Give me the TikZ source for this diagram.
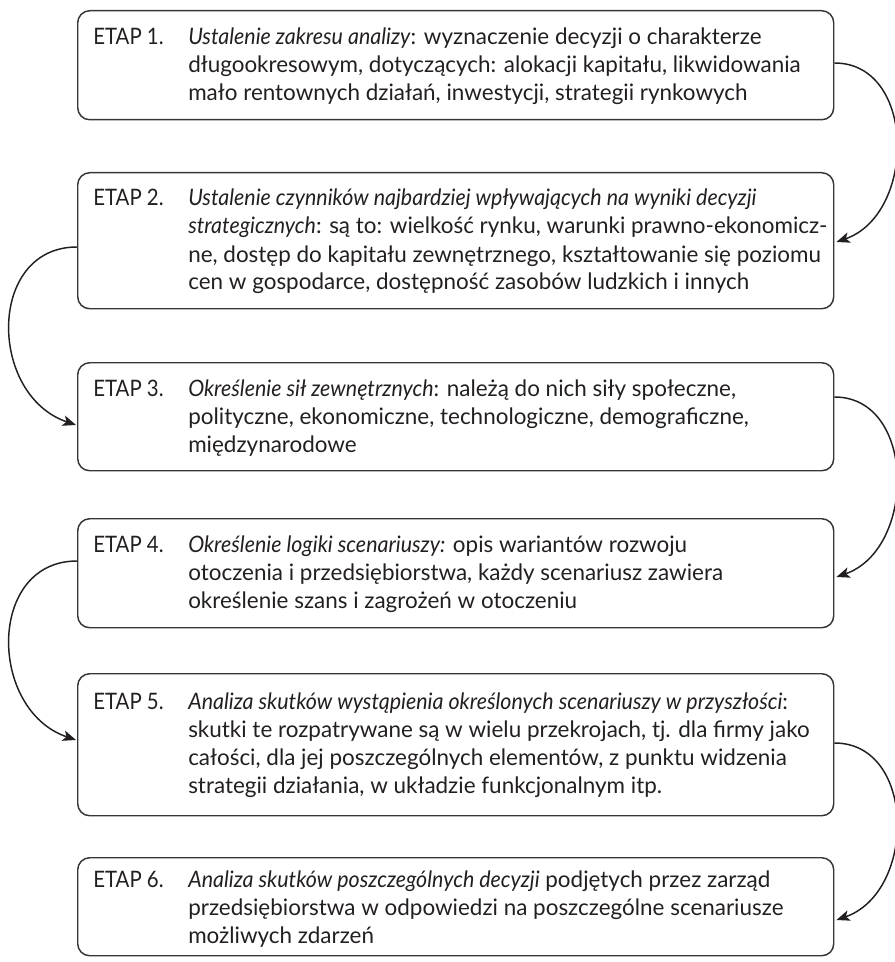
\documentclass[tikz,border=0pt]{standalone}
\usepackage{fontspec}
\setmainfont{Lato}[FakeStretch=0.99,ItalicFeatures={FakeStretch=0.945}]
\newfontfamily\etapfont{Lato}[FakeStretch=0.9]
\usetikzlibrary{arrows.meta,calc}
\definecolor{ink}{HTML}{231F20}
\newcommand{\mlines}[1]{\vtop{\baselineskip=21pt\lineskiplimit=-20pt\halign{##\hfil\cr#1\crcr}}}
\begin{document}
\begin{tikzpicture}[x=0.75pt,y=-0.75pt,
  box/.style={draw=ink!90,line width=1.1pt,rounded corners=9pt,minimum width=567pt,anchor=north west,inner sep=0pt},
  lbl/.style={anchor=base west,inner sep=0pt,text=ink,font=\fontsize{17}{21}\selectfont},
  elbl/.style={lbl,font=\fontsize{17}{21}\etapfont},
  arr/.style={draw=ink,line width=1.1pt,-{Stealth[length=10pt,width=8pt,inset=2.5pt]}}]
\useasboundingbox (0,0) rectangle (894,962);
% boxes
\node[box,minimum height=81.75pt] (b1) at (77,10) {};
\node[box,minimum height=102pt] (b2) at (77,172) {};
\node[box,minimum height=81pt] (b3) at (77,362) {};
\node[box,minimum height=81.75pt] (b4) at (77,518) {};
\node[box,minimum height=106.5pt] (b5) at (77,673) {};
\node[box,minimum height=73.5pt] (b6) at (77,857) {};
% labels
\node[elbl] (e1) at (93,45) {ETAP 1.};
\node[lbl] (t1) at (188,45) {\mlines{\textit{Ustalenie zakresu analizy}: wyznaczenie decyzji o charakterze\cr
długookresowym, dotyczących: alokacji kapitału, likwidowania\cr
mało rentownych działań, inwestycji, strategii rynkowych}};
\node[elbl] (e2) at (93,206) {ETAP 2.};
\node[lbl] (t2) at (188,206) {\mlines{\textit{Ustalenie czynników najbardziej wpływających na wyniki decyzji}\cr
\textit{strategicznych}: są to: wielkość rynku, warunki prawno-ekonomicz-\cr
ne, dostęp do kapitału zewnętrznego, kształtowanie się poziomu\cr
cen w gospodarce, dostępność zasobów ludzkich i innych}};
\node[elbl] (e3) at (93,396) {ETAP 3.};
\node[lbl] (t3) at (188,396) {\mlines{\textit{Określenie sił zewnętrznych}: należą do nich siły społeczne,\cr
polityczne, ekonomiczne, technologiczne, demograficzne,\cr
międzynarodowe}};
\node[elbl] (e4) at (93,552) {ETAP 4.};
\node[lbl] (t4) at (188,552) {\mlines{\textit{Określenie logiki scenariuszy:} opis wariantów rozwoju\cr
otoczenia i przedsiębiorstwa, każdy scenariusz zawiera\cr
określenie szans i zagrożeń w otoczeniu}};
\node[elbl] (e5) at (93,709) {ETAP 5.};
\node[lbl] (t5) at (188,709) {\mlines{\textit{Analiza skutków wystąpienia określonych scenariuszy w przyszłości}:\cr
skutki te rozpatrywane są w wielu przekrojach, tj. dla firmy jako\cr
całości, dla jej poszczególnych elementów, z punktu widzenia\cr
strategii działania, w układzie funkcjonalnym itp.}};
\node[elbl] (e6) at (93,887) {ETAP 6.};
\node[lbl] (t6) at (188,887) {\mlines{\textit{Analiza skutków poszczególnych decyzji} podjętych przez zarząd\cr
przedsiębiorstwa w odpowiedzi na poszczególne scenariusze\cr
możliwych zdarzeń}};
% connectors
\draw[arr] ($(b1.north east)+(0,53)$) .. controls +(82,0) and +(80,-28) .. ($(b2.north east)+(2,70)$);
\draw[arr] ($(b2.north west)+(0,75)$) .. controls +(-90,0) and +(-88,-30) .. ($(b3.north west)+(-1,63)$);
\draw[arr] ($(b3.north east)+(0,35)$) .. controls +(82,0) and +(80,-28) .. ($(b4.north east)+(2,59)$);
\draw[arr] ($(b4.north west)+(0,43)$) .. controls +(-90,0) and +(-88,-30) .. ($(b5.north west)+(-1,67)$);
\draw[arr] ($(b5.north east)+(0,70)$) .. controls +(82,0) and +(80,-28) .. ($(b6.north east)+(2,63)$);
\end{tikzpicture}
\end{document}
